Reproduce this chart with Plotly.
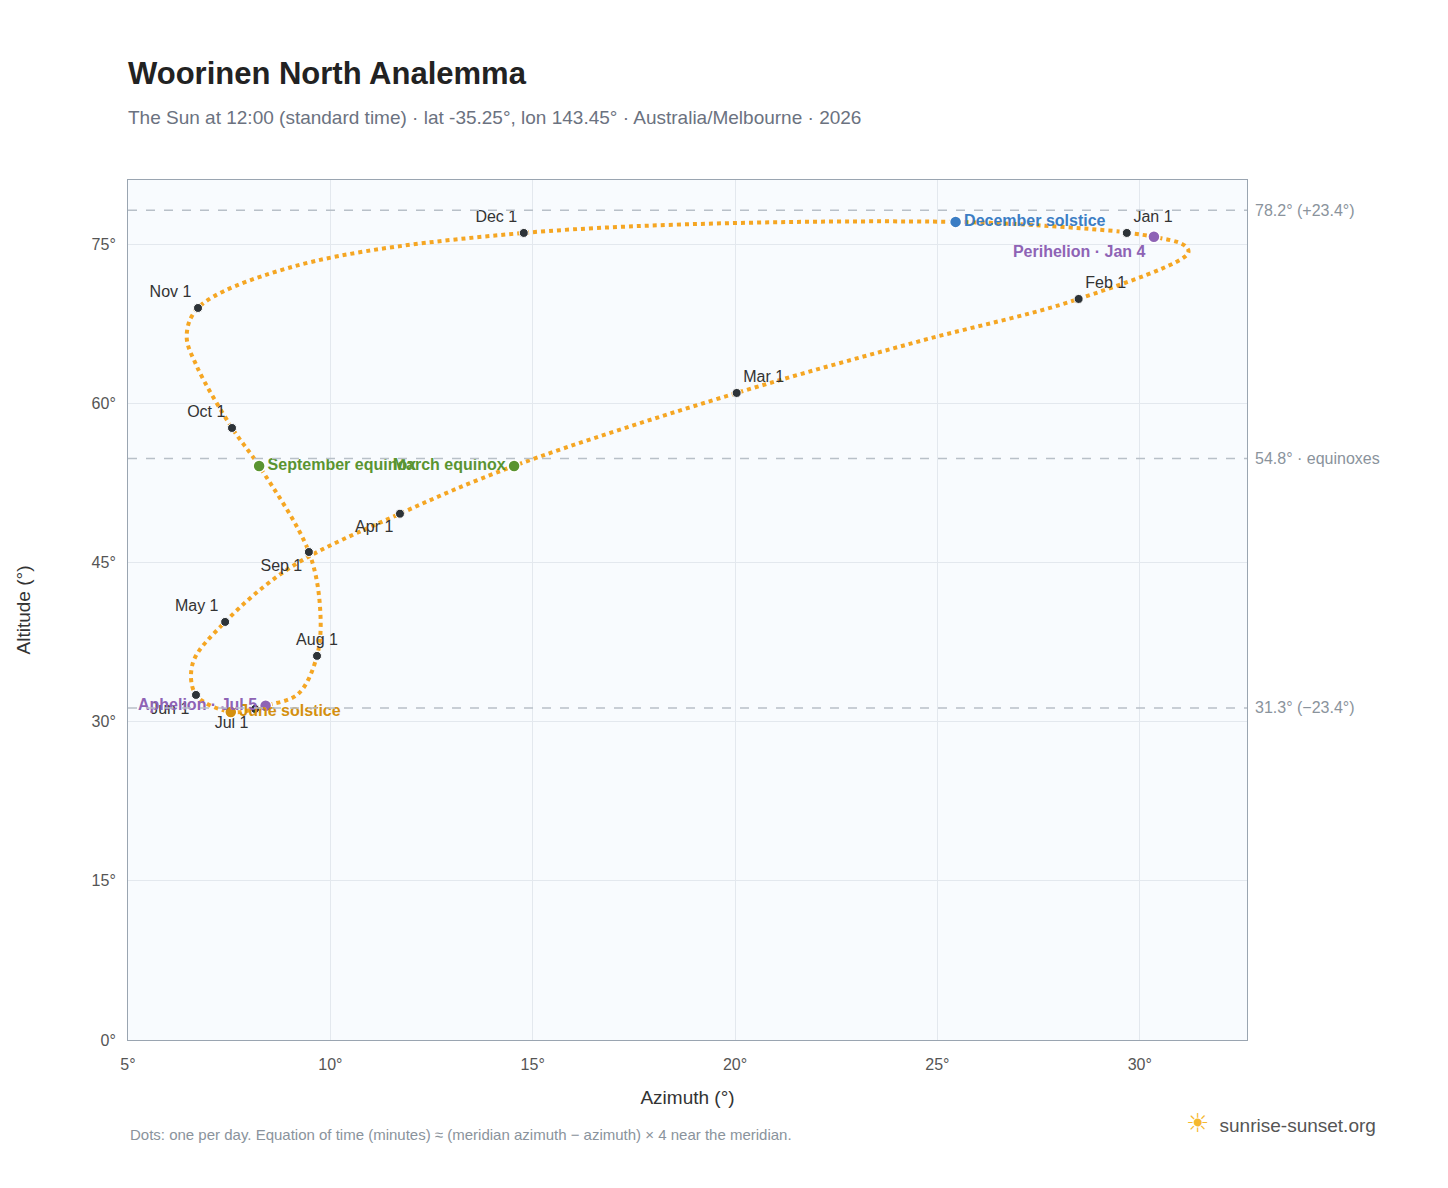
import plotly.graph_objects as go

# Path of the Sun at noon (azimuth, altitude), in date order
path_az = [29.68, 30.35, 31.1, 31.2, 28.49, 24.5, 20.04, 14.54, 11.72, 9.0, 7.40, 6.6,
           6.68, 7.54, 8.14, 8.40, 9.2, 9.67, 9.75, 9.47, 8.24, 7.57, 6.7, 6.45, 6.73,
           9.0, 14.78, 25.45, 29.5]
path_alt = [76.06, 75.7, 74.9, 74.2, 69.84, 65.8, 60.98, 54.1, 49.6, 44.5, 39.4, 35.5,
            32.52, 30.91, 31.2, 31.5, 32.6, 36.2, 40.5, 45.99, 54.1, 57.68, 63.5, 66.4, 68.99,
            72.8, 76.06, 77.1, 76.2]

months = ["Jan 1", "Feb 1", "Mar 1", "Apr 1", "May 1", "Jun 1", "Jul 1", "Aug 1",
          "Sep 1", "Oct 1", "Nov 1", "Dec 1"]
month_az = [29.68, 28.49, 20.04, 11.72, 7.40, 6.68, 8.14, 9.67, 9.47, 7.57, 6.73, 14.78]
month_alt = [76.06, 69.84, 60.98, 49.6, 39.4, 32.52, 31.2, 36.2, 45.99, 57.68, 68.99, 76.06]
month_pos = ["top right", "top right", "top right", "bottom left", "top left", "bottom left",
             "bottom left", "top center", "bottom left", "top left", "top left", "top left"]

events = ["December solstice", "Perihelion · Jan 4", "March equinox", "September equinox",
          "June solstice", "Aphelion · Jul 5"]
event_az = [25.45, 30.35, 14.54, 8.24, 7.54, 8.40]
event_alt = [77.1, 75.7, 54.1, 54.1, 30.91, 31.5]
event_colors = ["#3b7dc4", "#8e63b5", "#5a9431", "#5a9431", "#d4900f", "#8e63b5"]
event_pos = ["middle right", "bottom left", "middle left", "middle right", "middle right", "middle left"]

ref_levels = [78.2, 54.8, 31.3]
ref_labels = ["78.2° (+23.4°)", "54.8° · equinoxes", "31.3° (−23.4°)"]

x_ticks = [5, 10, 15, 20, 25, 30]
y_ticks = [0, 15, 30, 45, 60, 75]

fig = go.Figure()
fig.add_trace(go.Scatter(x=path_az, y=path_alt, mode="lines",
                         line=dict(color="#f5a623", width=4, dash="dot", shape="spline", smoothing=1.0),
                         hoverinfo="skip", showlegend=False))
fig.add_trace(go.Scatter(x=month_az, y=month_alt, mode="markers+text", text=months,
                         textposition=month_pos, textfont=dict(size=16, color="#333"),
                         marker=dict(size=9, color="#2d3338", line=dict(color="white", width=1)),
                         showlegend=False))
fig.add_trace(go.Scatter(x=event_az, y=event_alt, mode="markers+text",
                         text=["<b>" + e + "</b>" for e in events], textposition=event_pos,
                         textfont=dict(size=16, color=event_colors),
                         marker=dict(size=12, color=event_colors, line=dict(color="white", width=1.5)),
                         showlegend=False))

for lvl, lab in zip(ref_levels, ref_labels):
    fig.add_hline(y=lvl, line=dict(color="#b8c0c8", width=1.5, dash="dash"))
    fig.add_annotation(x=1, xref="paper", y=lvl, text=lab, showarrow=False, xanchor="left",
                       xshift=6, font=dict(size=16, color="#8a939c"))

fig.update_layout(
    width=1448, height=1188,
    margin=dict(l=120, r=209, t=172, b=156),
    paper_bgcolor="white", plot_bgcolor="#f8fbfe",
    font=dict(family="Liberation Sans, Arial, sans-serif", size=16, color="#555"),
    title=dict(text="<b>Woorinen North Analemma</b><br><span style='font-size:19px;color:#6b7280'>"
                    "The Sun at 12:00 (standard time) · lat -35.25°, lon 143.45° · Australia/Melbourne · 2026</span>",
               x=120 / 1448, xanchor="left", y=1 - 76 / 1188, yanchor="top",
               font=dict(size=31, color="#222")),
    xaxis=dict(title=dict(text="Azimuth (°)", font=dict(size=19, color="#333"), standoff=18),
               range=[5, 32.65], tickvals=x_ticks, ticktext=[f"{v}°" for v in x_ticks],
               gridcolor="#e3e8ee", zeroline=False, showline=True, linecolor="#9aa5b1", mirror=True,
               tickfont=dict(size=16, color="#555"), automargin=False, ticklabelstandoff=10),
    yaxis=dict(title=dict(text="Altitude (°)", font=dict(size=19, color="#333"), standoff=55),
               range=[0, 81.05], tickvals=y_ticks, ticktext=[f"{v}°" for v in y_ticks],
               gridcolor="#e3e8ee", zeroline=False, showline=True, linecolor="#9aa5b1", mirror=True,
               tickfont=dict(size=16, color="#555"), automargin=False, ticklabelstandoff=8),
)
fig.add_annotation(x=0, xref="paper", y=-0.122, yref="paper", xanchor="left", showarrow=False,
                   text="Dots: one per day. Equation of time (minutes) ≈ (meridian azimuth − azimuth) × 4 near the meridian.",
                   font=dict(size=15, color="#8a939c"))
fig.add_annotation(x=1.117, xref="paper", y=-0.116, yref="paper", xanchor="right", showarrow=False,
                   text="<span style='color:#f5b82e;font-size:26px'>☀</span>  sunrise-sunset.org",
                   font=dict(size=19, color="#555"))

fig.write_html("out.html")
